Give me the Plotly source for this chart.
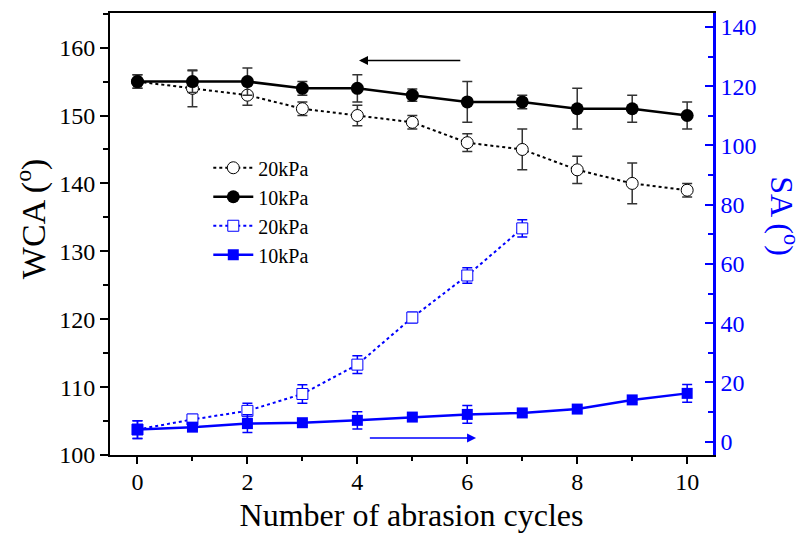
import plotly.graph_objects as go

cycles = [0, 1, 2, 3, 4, 5, 6, 7, 8, 9, 10]
cycles_sa20 = [0, 1, 2, 3, 4, 5, 6, 7]

wca_20 = [155, 154, 153, 151, 150, 149, 146, 145, 142, 140, 139]
wca_20_err = [1, 2.7, 1.5, 1, 1.5, 1, 1.3, 3, 2, 3, 1]
wca_10 = [155, 155, 155, 154, 154, 153, 152, 152, 151, 151, 150]
wca_10_err = [1, 1.6, 2, 1, 2, 0.9, 3, 1, 3, 2, 2]

sa_20 = [4.1, 7.5, 10.4, 16.1, 26, 41.9, 56.1, 72]
sa_20_err = [3, 1.7, 2.6, 3.1, 3, 1.8, 2.6, 2.9]
sa_10 = [4.1, 4.9, 6.1, 6.4, 7.2, 8.3, 9.2, 9.7, 11, 14.1, 16.3]
sa_10_err = [3, 1, 3, 1, 2.9, 1, 3, 1, 1, 1, 3]

FONT = "Liberation Serif"
BLUE = "#0000ff"

fig = go.Figure()

fig.add_trace(go.Scatter(
    x=cycles, y=wca_20, name="20kPa", mode="lines+markers",
    line=dict(color="black", width=2, dash="dot"),
    marker=dict(symbol="circle", size=12, color="white", line=dict(color="black", width=1)),
    error_y=dict(type="data", array=wca_20_err, color="#333333", thickness=1.5, width=5),
    yaxis="y"))
fig.add_trace(go.Scatter(
    x=cycles, y=wca_10, name="10kPa", mode="lines+markers",
    line=dict(color="black", width=2.5),
    marker=dict(symbol="circle", size=13, color="black"),
    error_y=dict(type="data", array=wca_10_err, color="#333333", thickness=1.5, width=5),
    yaxis="y"))
fig.add_trace(go.Scatter(
    x=cycles_sa20, y=sa_20, name="20kPa", mode="lines+markers",
    line=dict(color=BLUE, width=2, dash="dot"),
    marker=dict(symbol="square", size=11, color="white", line=dict(color=BLUE, width=1)),
    error_y=dict(type="data", array=sa_20_err, color=BLUE, thickness=1.5, width=5),
    yaxis="y2"))
fig.add_trace(go.Scatter(
    x=cycles, y=sa_10, name="10kPa", mode="lines+markers",
    line=dict(color=BLUE, width=2.5),
    marker=dict(symbol="square", size=11, color=BLUE),
    error_y=dict(type="data", array=sa_10_err, color=BLUE, thickness=1.5, width=5),
    yaxis="y2"))

fig.update_layout(
    width=804, height=539,
    margin=dict(l=110, r=91, t=13, b=84),
    paper_bgcolor="white", plot_bgcolor="white",
    font=dict(family=FONT, size=24, color="black"),
    showlegend=True,
    legend=dict(x=0.163, y=0.694, xanchor="left", yanchor="top",
                font=dict(family=FONT, size=20), bgcolor="rgba(0,0,0,0)",
                itemwidth=40),
    xaxis=dict(range=[-0.5, 10.47], tickvals=[0, 2, 4, 6, 8, 10],
               ticks="outside", ticklen=7, tickwidth=1.5, tickcolor="black",
               minor=dict(dtick=1, ticks="outside", ticklen=4, tickwidth=1.5, tickcolor="black"),
               showline=True, linecolor="black", linewidth=2, mirror=True,
               showgrid=False, zeroline=False, ticklabelstandoff=-3,
               title=dict(text="Number of abrasion cycles", font=dict(size=32), standoff=10),
               tickfont=dict(size=24)),
    yaxis=dict(range=[100, 165.1], tickvals=[100, 110, 120, 130, 140, 150, 160],
               ticks="outside", ticklen=8, tickwidth=1.5, tickcolor="black",
               minor=dict(dtick=5, ticks="outside", ticklen=5, tickwidth=1.5, tickcolor="black"),
               showline=True, linecolor="black", linewidth=2,
               showgrid=False, zeroline=False, tickfont=dict(size=24)),
    yaxis2=dict(range=[-4.5, 144.7], overlaying="y", side="right",
                tickvals=[0, 20, 40, 60, 80, 100, 120, 140],
                ticks="inside", ticklen=8, tickwidth=1.5, tickcolor=BLUE,
                minor=dict(dtick=10, ticks="inside", ticklen=5, tickwidth=1.5, tickcolor=BLUE),
                showline=True, linecolor=BLUE, linewidth=2.5,
                showgrid=False, zeroline=False,
                tickfont=dict(size=24, color=BLUE)),
)

fig.add_annotation(text="WCA (<sup>o</sup>)", xref="paper", yref="paper",
                   x=-0.13, y=0.535, xanchor="center", yanchor="middle",
                   textangle=-90, showarrow=False, font=dict(size=34, color="black"))
fig.add_annotation(text="SA (<sup>o</sup>)", xref="paper", yref="paper",
                   x=1.118, y=0.54, xanchor="center", yanchor="middle",
                   textangle=90, showarrow=False, font=dict(size=32, color=BLUE))

# direction arrows
fig.add_annotation(x=4.03, y=158.1, ax=5.9, ay=158.1, xref="x", yref="y",
                   axref="x", ayref="y", showarrow=True, arrowhead=2,
                   arrowsize=1.2, arrowwidth=1.5, arrowcolor="black", text="")
fig.add_annotation(x=6.16, y=102.5, ax=4.2, ay=102.5, xref="x", yref="y",
                   axref="x", ayref="y", showarrow=True, arrowhead=2,
                   arrowsize=1.2, arrowwidth=1.5, arrowcolor=BLUE, text="")

fig.write_html("out.html")
